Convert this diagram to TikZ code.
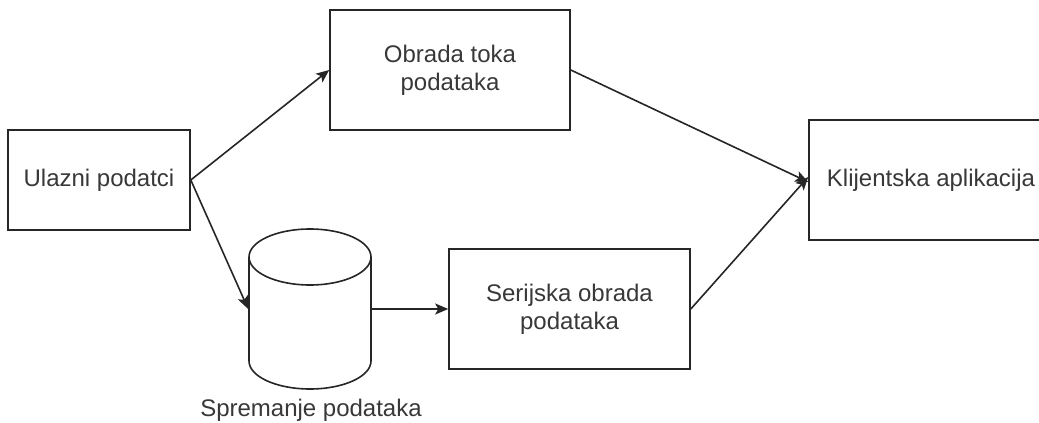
\documentclass[tikz,border=0pt]{standalone}
\usepackage{fontspec}
\setmainfont{Liberation Sans}
\usetikzlibrary{arrows.meta}
\begin{document}
\begin{tikzpicture}[x=1pt,y=-1pt,
  line width=1.6pt,
  every node/.style={font=\fontsize{24}{28}\selectfont, text=black!78},
  box/.style={draw=black!85, rectangle, inner sep=0pt, align=center},
  conn/.style={draw=black!85, -{Stealth[length=13pt,width=11pt,inset=3pt]}},
  ghost/.style={rectangle, inner sep=0pt, draw=none}]
\useasboundingbox (0,0) rectangle (1039,423);
\fill[white] (0,0) rectangle (1039,423);
% boxes
\node[box, minimum width=182pt, minimum height=100pt] (in) at (99,180) {Ulazni podatci};
\node[box, minimum width=240pt, minimum height=120pt] (st) at (450,70) {Obrada toka\\podataka};
\node[box, minimum width=241pt, minimum height=120pt] (se) at (569.5,309) {Serijska obrada\\podataka};
\node[box, minimum width=244pt, minimum height=120pt] (kl) at (931,180) {Klijentska aplikacija};
% cylinder
\node[ghost, minimum width=122pt, minimum height=160pt] (db) at (310,309) {};
\draw[draw=black!85, fill=white] (249,257) -- (249,361) arc[start angle=180, end angle=0, x radius=61, y radius=28] -- (371,257) arc[start angle=0, end angle=-180, x radius=61, y radius=28] -- cycle;
\draw[draw=black!85] (249,257) arc[start angle=180, end angle=0, x radius=61, y radius=28];
\node (dblabel) at (311,410) {Spremanje podataka};
% connectors
\draw[conn] (in.east) -- (st.west);
\draw[conn] (in.east) -- (db.west);
\draw[conn] (db.east) -- (se.west);
\draw[conn] (st.east) -- ([yshift=-2pt]kl.west);
\draw[conn] (se.east) -- ([yshift=3pt]kl.west);
\end{tikzpicture}
\end{document}
